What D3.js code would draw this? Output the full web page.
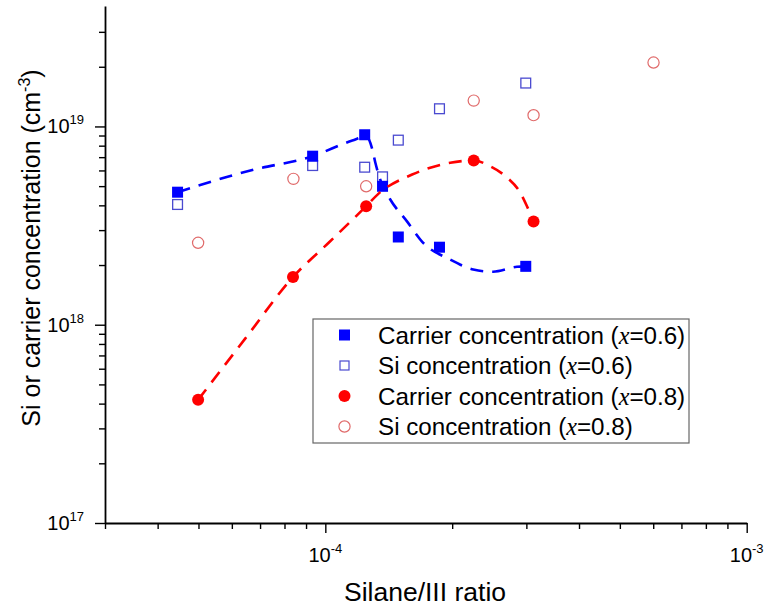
<!DOCTYPE html>
<html lang="en">
<head>
<meta charset="utf-8" />
<title>Si or carrier concentration vs Silane/III ratio</title>
<script src="https://d3js.org/d3.v7.min.js"></script>
<style>
  body { margin: 0; background: #fff; font-family: "Liberation Sans", Arial, sans-serif; }
  svg { display: block; }
  .axis path, .axis line { stroke: #000; }
  .axis .domain { stroke-width: 1.8; }
  .axis line { stroke-width: 1.4; }
  .fit { fill: none; stroke-width: 2.6; stroke-dasharray: 13, 9; }
</style>
</head>
<body>
<div id="chart"></div>
<script>
/* ---------------- data: [silane/III ratio, concentration cm^-3] ---------------- */
const carrier06 = [[4.46e-5, 4.66e18], [9.33e-5, 7.08e18], [1.24e-4, 9.08e18], [1.367e-4, 4.99e18],
                   [1.49e-4, 2.77e18], [1.866e-4, 2.46e18], [2.99e-4, 1.97e18]];
const si06 = [[4.46e-5, 4.04e18], [9.33e-5, 6.35e18], [1.24e-4, 6.23e18], [1.367e-4, 5.57e18],
              [1.49e-4, 8.53e18], [1.866e-4, 1.228e19], [2.99e-4, 1.655e19]];
const carrier08 = [[4.99e-5, 4.18e17], [8.38e-5, 1.74e18], [1.25e-4, 3.96e18], [2.25e-4, 6.73e18],
                   [3.12e-4, 3.32e18]];
const si08 = [[4.99e-5, 2.59e18], [8.4e-5, 5.44e18], [1.25e-4, 4.99e18], [2.25e-4, 1.35e19],
              [3.12e-4, 1.14e19], [6.01e-4, 2.10e19]];

// guide-to-the-eye curves
const fit06 = [[4.46e-5, 4.66e18], [6.64e-5, 6.0e18], [9.33e-5, 7.08e18], [1.159e-4, 8.49e18],
               [1.251e-4, 8.9e18], [1.293e-4, 7.65e18], [1.314e-4, 6.58e18], [1.358e-4, 5.21e18],
               [1.426e-4, 4.28e18], [1.564e-4, 3.31e18], [1.698e-4, 2.62e18], [1.979e-4, 2.13e18],
               [2.244e-4, 1.90e18], [2.50e-4, 1.85e18], [2.85e-4, 1.96e18], [2.99e-4, 1.97e18]];
const fit08 = [[4.99e-5, 4.18e17], [6.46e-5, 8.53e17], [8.38e-5, 1.74e18], [1.024e-4, 2.62e18],
               [1.25e-4, 3.96e18], [1.336e-4, 4.57e18], [1.607e-4, 5.72e18], [1.979e-4, 6.56e18],
               [2.25e-4, 6.73e18], [2.46e-4, 6.30e18], [2.70e-4, 5.52e18], [2.90e-4, 4.64e18],
               [3.01e-4, 3.96e18], [3.12e-4, 3.32e18]];

const legendLabels = ["Carrier concentration (", "Si concentration (", "Carrier concentration (", "Si concentration ("];
const legendX = ["0.6", "0.6", "0.8", "0.8"];

const xMajor = [1e-4, 1e-3];
const xMajorLabels = [["10", "-4"], ["10", "-3"]];
const xMinor = [3e-5, 4e-5, 5e-5, 6e-5, 7e-5, 8e-5, 9e-5, 2e-4, 3e-4, 4e-4, 5e-4, 6e-4, 7e-4, 8e-4, 9e-4];
const yMajor = [1e17, 1e18, 1e19];
const yMajorLabels = [["10", "17"], ["10", "18"], ["10", "19"]];
const yMinor = [2e17, 3e17, 4e17, 5e17, 6e17, 7e17, 8e17, 9e17,
                2e18, 3e18, 4e18, 5e18, 6e18, 7e18, 8e18, 9e18, 2e19, 3e19];

/* ---------------- layout ---------------- */
const W = 766, H = 607;
const L = 105, R = 746.7, T = 6, B = 523;

const svg = d3.select("#chart").append("svg").attr("width", W).attr("height", H);

const x = d3.scaleLog().domain([3e-5, 1e-3]).range([L, R]);
const y = d3.scaleLog().domain([1e17, 4.05e19]).range([B, T]);

/* ---------------- axes ---------------- */
svg.append("g").attr("class", "axis").attr("transform", `translate(0,${B})`)
  .call(d3.axisBottom(x).tickValues(xMinor).tickSize(6).tickFormat(""))
  .call(g => g.select(".domain").remove());
svg.append("g").attr("class", "axis").attr("transform", `translate(0,${B})`)
  .call(d3.axisBottom(x).tickValues(xMajor).tickSize(10).tickSizeOuter(0).tickFormat(""));

svg.append("g").attr("class", "axis").attr("transform", `translate(${L},0)`)
  .call(d3.axisLeft(y).tickValues(yMinor).tickSize(6).tickFormat(""))
  .call(g => g.select(".domain").remove());
svg.append("g").attr("class", "axis").attr("transform", `translate(${L},0)`)
  .call(d3.axisLeft(y).tickValues(yMajor).tickSize(10).tickSizeOuter(0).tickFormat(""));

// power-of-ten labels
const xl = svg.append("g").selectAll("text").data(xMajor).join("text")
  .attr("x", d => x(d)).attr("y", B + 39)
  .attr("text-anchor", "middle").attr("font-size", 20);
xl.append("tspan").text((d, i) => xMajorLabels[i][0]);
xl.append("tspan").attr("dy", -9).attr("font-size", 13).text((d, i) => xMajorLabels[i][1]);

const yl = svg.append("g").selectAll("text").data(yMajor).join("text")
  .attr("x", L - 21).attr("y", d => y(d) + 7)
  .attr("text-anchor", "end").attr("font-size", 20);
yl.append("tspan").text((d, i) => yMajorLabels[i][0]);
yl.append("tspan").attr("dy", -9).attr("font-size", 13).text((d, i) => yMajorLabels[i][1]);

// axis titles
svg.append("text").attr("x", 425).attr("y", 601).attr("text-anchor", "middle")
  .attr("font-size", 26.5).text("Silane/III ratio");

const yt = svg.append("text").attr("transform", "translate(39.5,248) rotate(-90)")
  .attr("text-anchor", "middle").attr("font-size", 25);
yt.append("tspan").text("Si or carrier concentration (cm");
yt.append("tspan").attr("dy", -10).attr("font-size", 16).text("-3");
yt.append("tspan").attr("dy", 10).text(")");

/* ---------------- markers ---------------- */
const sq = 11;
svg.append("g").selectAll("rect").data(si06).join("rect")
  .attr("x", d => x(d[0]) - sq / 2 + 0.6).attr("y", d => y(d[1]) - sq / 2 + 0.6)
  .attr("width", sq - 1.2).attr("height", sq - 1.2)
  .attr("fill", "none").attr("stroke", "#4a4ad0").attr("stroke-width", 1.3);

svg.append("g").selectAll("rect").data(carrier06).join("rect")
  .attr("x", d => x(d[0]) - sq / 2).attr("y", d => y(d[1]) - sq / 2)
  .attr("width", sq).attr("height", sq).attr("fill", "#0000ff");

svg.append("g").selectAll("circle").data(si08).join("circle")
  .attr("cx", d => x(d[0])).attr("cy", d => y(d[1])).attr("r", 5.6)
  .attr("fill", "none").attr("stroke", "#e06a6a").attr("stroke-width", 1.2);

svg.append("g").selectAll("circle").data(carrier08).join("circle")
  .attr("cx", d => x(d[0])).attr("cy", d => y(d[1])).attr("r", 6)
  .attr("fill", "#ff0000");

/* ---------------- dashed guide curves ---------------- */
const line = d3.line().x(d => x(d[0])).y(d => y(d[1])).curve(d3.curveMonotoneX);
svg.append("path").attr("class", "fit").attr("stroke", "#0000ff").attr("d", line(fit06));
svg.append("path").attr("class", "fit").attr("stroke", "#ff0000").attr("d", line(fit08));

/* ---------------- legend ---------------- */
const lg = svg.append("g").attr("transform", "translate(313,319)");
lg.append("rect").attr("width", 376).attr("height", 124)
  .attr("fill", "#fff").attr("stroke", "#666").attr("stroke-width", 1.2);

const rows = lg.selectAll("g.row").data(legendLabels).join("g")
  .attr("class", "row").attr("transform", (d, i) => `translate(0,${16 + i * 30.5})`);

rows.filter((d, i) => i === 0).append("rect")
  .attr("x", 26).attr("y", -5.5).attr("width", 11).attr("height", 11).attr("fill", "#0000ff");
rows.filter((d, i) => i === 1).append("rect")
  .attr("x", 27).attr("y", -4.5).attr("width", 9).attr("height", 9)
  .attr("fill", "none").attr("stroke", "#4a4ad0").attr("stroke-width", 1.2);
rows.filter((d, i) => i === 2).append("circle")
  .attr("cx", 31.5).attr("cy", 0).attr("r", 6).attr("fill", "#ff0000");
rows.filter((d, i) => i === 3).append("circle")
  .attr("cx", 31.5).attr("cy", 0).attr("r", 5.6)
  .attr("fill", "none").attr("stroke", "#e06a6a").attr("stroke-width", 1.2);

const lt = rows.append("text").attr("x", 65).attr("y", 8.5).attr("font-size", 24.2);
lt.append("tspan").text(d => d);
lt.append("tspan").attr("font-family", "'Liberation Serif', 'Times New Roman', serif")
  .attr("font-style", "italic").text("x");
lt.append("tspan").text((d, i) => "=" + legendX[i] + ")");
</script>
</body>
</html>
